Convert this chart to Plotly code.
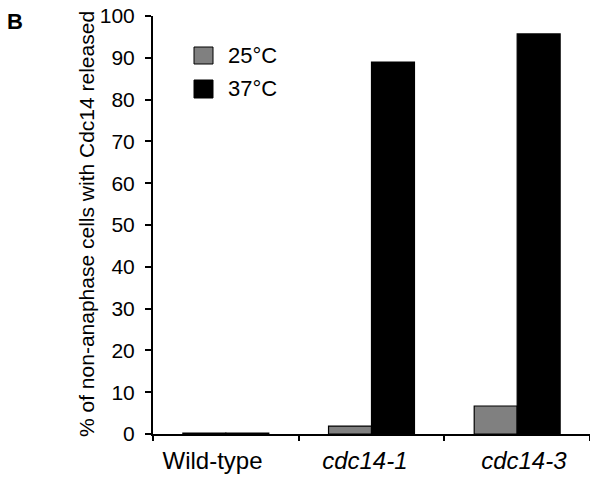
import plotly.graph_objects as go

categories = ["Wild-type", "cdc14-1", "cdc14-3"]
tick_labels = ["Wild-type&nbsp;&nbsp;&nbsp;&nbsp;", "<i>cdc14-1</i>&nbsp;&nbsp;",
               "&nbsp;&nbsp;<i>cdc14-3</i>"]
series_names = ["25°C", "37°C"]
series_colors = ["#808080", "#000000"]
values_25 = [0.2, 1.9, 6.7]
values_37 = [0.2, 89.0, 95.7]
y_ticks = [0, 10, 20, 30, 40, 50, 60, 70, 80, 90, 100]
y_title = "% of non-anaphase cells with Cdc14 released"

FONT = "Liberation Sans, Arial, sans-serif"
L, R, T, B = 153, 0, 16, 43
W, H = 590, 477
PW, PH = W - L - R, H - T - B


def px(x):
    return (x - L) / PW


def py(y):
    return (H - B - y) / PH


fig = go.Figure()
for name, vals, col in zip(series_names, [values_25, values_37], series_colors):
    fig.add_trace(go.Bar(x=categories, y=vals, name=name,
                         marker=dict(color=col, line=dict(color="black", width=1.2))))

fig.update_layout(
    width=W, height=H,
    margin=dict(l=L, r=R, t=T, b=B, autoexpand=False),
    paper_bgcolor="white", plot_bgcolor="white",
    barmode="group", bargap=0.41, bargroupgap=0,
    font=dict(family=FONT, color="black", size=21),
    showlegend=False,
    xaxis=dict(tickmode="array", tickvals=categories, ticktext=tick_labels,
               tickson="boundaries", ticks="outside", ticklen=5, tickwidth=1.5,
               tickcolor="black", showline=True, linecolor="black", linewidth=2,
               tickfont=dict(size=24), ticklabelstandoff=4,
               range=[-0.5, 2.5], showgrid=False, automargin=False),
    yaxis=dict(range=[0, 100], tickvals=y_ticks, ticks="outside", ticklen=6,
               tickwidth=1.5, tickcolor="black", showline=True, linecolor="black",
               linewidth=2, showgrid=False, zeroline=False,
               tickfont=dict(size=21), ticklabelstandoff=6, automargin=False),
)

# y-axis title
fig.add_annotation(text=y_title, xref="paper", yref="paper", x=px(86), y=py(224),
                   xanchor="center", yanchor="middle", textangle=-90,
                   showarrow=False, font=dict(size=21))

# legend drawn as keys + text
legend_rows = [(47, 64), (80, 98)]
for (y0, y1), name, col in zip(legend_rows, series_names, series_colors):
    fig.add_shape(type="rect", xref="paper", yref="paper",
                  x0=px(194), x1=px(213), y0=py(y1), y1=py(y0),
                  fillcolor=col, line=dict(color="black", width=1))
    fig.add_annotation(text=name, xref="paper", yref="paper",
                       x=px(226), y=py((y0 + y1) / 2), xanchor="left",
                       yanchor="middle", showarrow=False, font=dict(size=22))

fig.add_annotation(text="<b>B</b>", xref="paper", yref="paper",
                   x=px(5), y=py(21), xanchor="left", yanchor="middle",
                   showarrow=False, font=dict(size=22))

fig.write_html("out.html", config={"displayModeBar": False},
               post_script="document.body.style.margin='0';document.body.style.overflow='hidden';")
